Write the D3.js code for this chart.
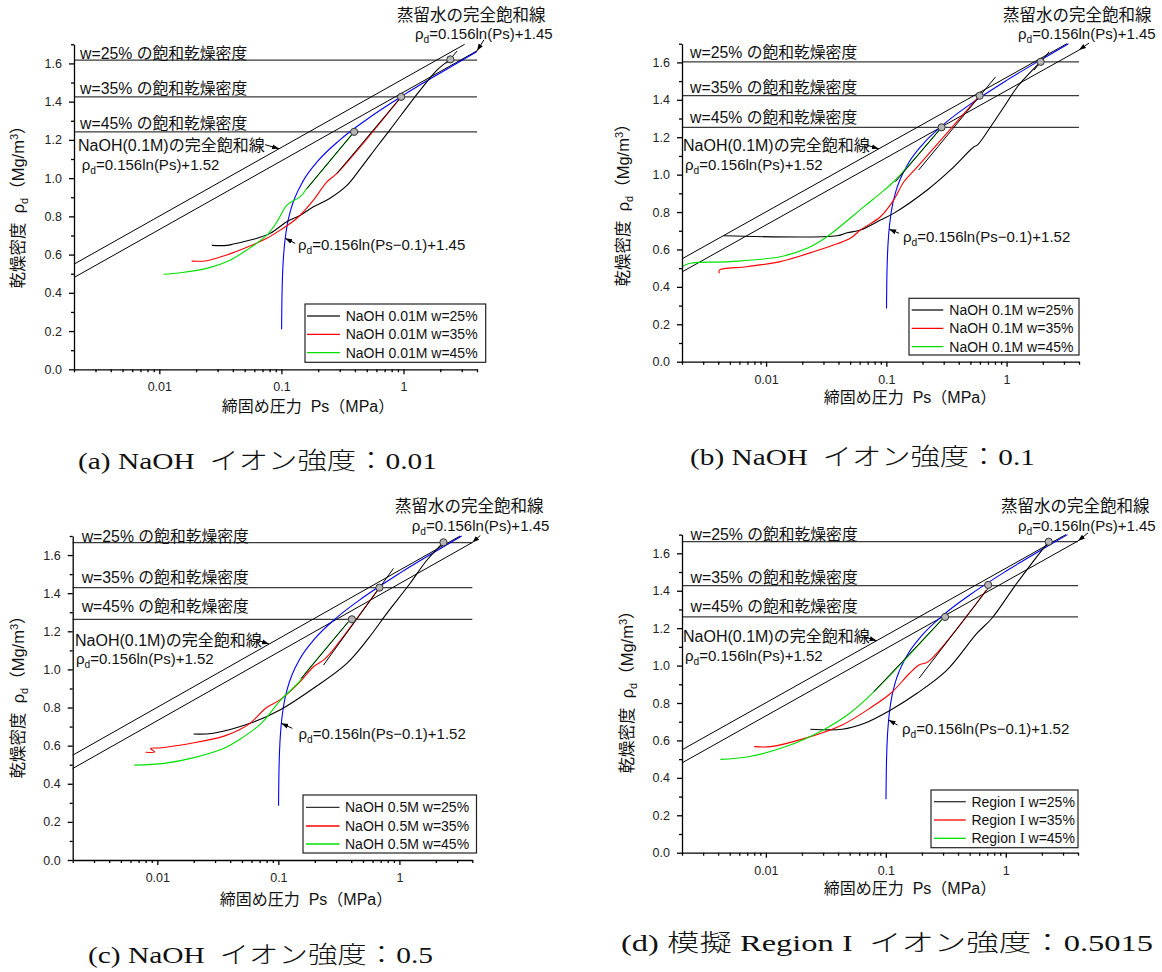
<!DOCTYPE html>
<html><head><meta charset="utf-8">
<script src="https://cdn.jsdelivr.net/npm/d3@7"></script>
<style>
body{margin:0;background:#fff}
svg{display:block}
svg text{white-space:pre}
</style></head><body>
<svg id="chart" width="1162" height="972"></svg>
<script>
// ---- axes ----
const X_DOMAIN = [0.002, 4];
const Y_DOMAIN = [0, 1.7];
const xMajor = [0.01, 0.1, 1];
const xMinor = [0.002,0.003,0.004,0.005,0.006,0.007,0.008,0.009,0.02,0.03,0.04,0.05,0.06,0.07,0.08,0.09,0.2,0.3,0.4,0.5,0.6,0.7,0.8,0.9,2,3,4];
const yMajor = [0,0.2,0.4,0.6,0.8,1.0,1.2,1.4,1.6];
const yMinor = [0.1,0.3,0.5,0.7,0.9,1.1,1.3,1.5,1.7];

// ---- full saturation lines, [Ps (MPa), rho_d] end points ----
const satLineNaOH  = [[0.002, 0.550], [3.17, 1.700]];   // 0.156ln(Ps)+1.52
const satLineWater = [[0.002, 0.480], [4.0, 1.666]];    // 0.156ln(Ps)+1.45

// ---- 0.156ln(Ps-0.1)+c curves ----
const blue145 = [[0.10035,0.209],[0.1005,0.264],[0.101,0.372],[0.102,0.480],[0.103,0.544],[0.105,0.623],[0.11,0.732],[0.12,0.840],[0.13,0.903],[0.15,0.983],[0.2,1.091],[0.3,1.199],[0.5,1.307],[1.0,1.434],[2.0,1.550],[4.0,1.662]];
const blue152 = [[0.100365,0.285],[0.1005,0.334],[0.101,0.442],[0.102,0.550],[0.103,0.614],[0.105,0.693],[0.11,0.802],[0.12,0.910],[0.13,0.973],[0.15,1.053],[0.2,1.161],[0.3,1.269],[0.5,1.377],[1.0,1.504],[2.0,1.620],[3.27,1.700]];

// ---- (a) NaOH 0.01M ----
const aSatRho = [1.617, 1.425, 1.242];
const aW25 = [[0.0269,0.648],[0.0357,0.648],[0.0404,0.655],[0.059,0.680],[0.0808,0.711],[0.1108,0.772],[0.142,0.805],[0.183,0.850],[0.25,0.895],[0.344,0.962],[0.45,1.055],[0.606,1.164],[0.778,1.254],[1.37,1.460],[1.88,1.565],[2.42,1.621]];
const aW35 = [[0.0184,0.566],[0.0245,0.568],[0.0357,0.598],[0.0521,0.638],[0.0759,0.685],[0.0976,0.728],[0.134,0.790],[0.183,0.885],[0.236,0.981],[0.285,1.025],[0.957,1.425]];
const aW45 = [[0.0108,0.497],[0.0148,0.505],[0.0245,0.528],[0.038,0.571],[0.0521,0.624],[0.0759,0.702],[0.0917,0.770],[0.111,0.859],[0.142,0.902],[0.162,0.946],[0.394,1.242]];
const aFits = [[[0.162,0.946],[0.394,1.242]], [[0.285,1.025],[0.957,1.425]], [[2.25,1.600],[2.75,1.665]]];
const aPoints = [[0.394,1.242],[0.957,1.425],[2.42,1.621]];

// ---- (b) NaOH 0.1M ----
const bSatRho = [1.603, 1.422, 1.253];
const bW25 = [[0.00442,0.673],[0.0389,0.673],[0.0472,0.689],[0.0608,0.704],[0.0893,0.757],[0.115,0.793],[0.219,0.918],[0.342,1.025],[0.535,1.149],[0.571,1.158],[0.737,1.256],[0.952,1.363],[1.23,1.470],[1.59,1.550],[1.92,1.603]];
const bW35 = [[0.00409,0.472],[0.00409,0.490],[0.00692,0.508],[0.0131,0.535],[0.0248,0.588],[0.0502,0.660],[0.0608,0.704],[0.0893,0.775],[0.115,0.864],[0.140,0.962],[0.181,1.042],[0.597,1.422]];
const bW45 = [[0.0020,0.508],[0.00233,0.526],[0.00502,0.535],[0.0131,0.561],[0.0219,0.606],[0.0321,0.668],[0.0649,0.828],[0.0893,0.900],[0.115,0.962],[0.288,1.253]];
const bFits = [[[0.119,0.962],[0.288,1.253]], [[0.186,1.025],[0.811,1.523]], [[1.69,1.559],[2.26,1.657]]];
const bPoints = [[0.288,1.253],[0.597,1.422],[1.92,1.603]];

// ---- (c) NaOH 0.5M ----
const cSatRho = [1.665, 1.429, 1.263];
const cW25 = [[0.0199,0.661],[0.029,0.665],[0.0584,0.717],[0.103,0.787],[0.195,0.901],[0.368,1.032],[0.554,1.163],[0.787,1.294],[1.227,1.452],[1.69,1.574],[2.31,1.667]];
const cW35 = [[0.0080,0.565],[0.0095,0.567],[0.0088,0.585],[0.0105,0.588],[0.0201,0.615],[0.0356,0.650],[0.0472,0.682],[0.0584,0.717],[0.080,0.800],[0.103,0.840],[0.151,0.935],[0.195,1.014],[0.236,1.049],[0.268,1.084],[0.684,1.429]];
const cW45 = [[0.00646,0.498],[0.0114,0.507],[0.0201,0.537],[0.0356,0.586],[0.0472,0.630],[0.0723,0.717],[0.103,0.835],[0.151,0.940],[0.155,0.953],[0.379,1.250]];
const cFits = [[[0.155,0.953],[0.379,1.250]], [[0.236,1.023],[0.893,1.530]]];
const cPoints = [[0.405,1.263],[0.684,1.429],[2.31,1.667]];

// ---- (d) simulated Region I ----
const dSatRho = [1.662, 1.427, 1.260];
const dW25 = [[0.0235,0.660],[0.0433,0.660],[0.0665,0.692],[0.110,0.763],[0.182,0.852],[0.323,0.976],[0.574,1.172],[0.766,1.253],[1.18,1.422],[1.57,1.529],[2.28,1.662]];
const dW35 = [[0.0080,0.567],[0.011,0.567],[0.0211,0.611],[0.0433,0.683],[0.0768,0.780],[0.110,0.852],[0.158,0.959],[0.189,1.003],[0.226,1.021],[0.688,1.404]];
const dW45 = [[0.00418,0.499],[0.00716,0.513],[0.0147,0.567],[0.0301,0.656],[0.050,0.745],[0.0826,0.870],[0.301,1.253]];
const dFits = [[[0.0796,0.861],[0.301,1.253]], [[0.189,0.932],[0.713,1.413]]];
const dPoints = [[0.312,1.260],[0.713,1.431],[2.28,1.662]];

// ---- text ----
const satLabels = ["w=25% の飽和乾燥密度", "w=35% の飽和乾燥密度", "w=45% の飽和乾燥密度"];
const legendA = ["NaOH 0.01M w=25%", "NaOH 0.01M w=35%", "NaOH 0.01M w=45%"];
const legendB = ["NaOH 0.1M w=25%", "NaOH 0.1M w=35%", "NaOH 0.1M w=45%"];
const legendC = ["NaOH 0.5M w=25%", "NaOH 0.5M w=35%", "NaOH 0.5M w=45%"];
const legendD = ["Region I w=25%", "Region I w=35%", "Region I w=45%"];
const captions = ["(a) NaOH  イオン強度：0.01", "(b) NaOH  イオン強度：0.1", "(c) NaOH  イオン強度：0.5", "(d) 模擬 Region I  イオン強度：0.5015"];
const seriesColors = ["#000000", "#ff0000", "#00e000"];
const legendColors = ["#333333", "#ff0000", "#00e000"];

const SANS = '"Liberation Sans", Arial, "Noto Sans CJK JP", sans-serif';
const NARROW = '"Liberation Sans Narrow", "Liberation Sans", Arial, sans-serif';
const SERIF = '"Liberation Serif", "Times New Roman", "Noto Sans CJK JP", serif';

const svg = d3.select('#chart');
const defs = svg.append('defs');
defs.append('marker').attr('id', 'arrow').attr('viewBox', '0 0 10 10')
  .attr('refX', 10).attr('refY', 5).attr('markerWidth', 7).attr('markerHeight', 7)
  .attr('markerUnits', 'userSpaceOnUse').attr('orient', 'auto')
  .append('path').attr('d', 'M0,1.5L10,5L0,8.5Z').attr('fill', '#000');

function formulaText(g, x, y, body, size) {
  const t = g.append('text').attr('x', x).attr('y', y)
    .style('font-family', SANS).style('font-size', size + 'px').attr('fill', '#111');
  t.append('tspan').text('ρ');
  t.append('tspan').attr('baseline-shift', '-4').style('font-size', (size * 0.68) + 'px').text('d');
  t.append('tspan').text(body);
  return t;
}

const panels = [
  { left: 74, right: 477, top: 44.3, bottom: 369.3, satRho: aSatRho, series: [aW25, aW35, aW45], fits: aFits, points: aPoints, blue: blue145,
    blueLabel: '=0.156ln(Ps−0.1)+1.45', legend: legendA, caption: captions[0],
    satLabelX: 80, satLabelY: [59, 94, 129],
    waterX: 397, waterY: 21, waterFx: 415, waterFy: 39,
    naohX: 78, naohY: 151, naohFx: 81.7, naohFy: 170,
    blueX: 298, blueY: 250,
    arrows: [{tip: [0.0957, 1.154], dx: -14, dy: -4}, {tip: [4.0, 1.666], dx: 7, dy: -11}, {tip: [0.1074, 0.685], dx: 10, dy: 5}],
    xTitleX: 308, xTitleY: 412, yTitleX: 18.5, yTitleY: 203,
    capX: 78, capY: 469, capW: 359,
    legendBox: [305, 304, 485.7, 362.3], legendRows: [316, 334.3, 352.7], legendLine: [307, 340], legendTextX: 345.7 },
  { left: 682, right: 1079, top: 43.7, bottom: 361.7, satRho: bSatRho, series: [bW25, bW35, bW45], fits: bFits, points: bPoints, blue: blue152,
    blueLabel: '=0.156ln(Ps−0.1)+1.52', legend: legendB, caption: captions[1],
    satLabelX: 690, satLabelY: [58, 93, 122.5],
    waterX: 1003, waterY: 21, waterFx: 1018, waterFy: 39,
    naohX: 683, naohY: 151, naohFx: 685, naohFy: 170,
    blueX: 903, blueY: 242,
    arrows: [{tip: [0.0865, 1.138], dx: -13, dy: -4}, {tip: [4.0, 1.666], dx: 10, dy: -7}, {tip: [0.1055, 0.708], dx: 10, dy: 4}],
    xTitleX: 910, xTitleY: 403, yTitleX: 623, yTitleY: 201,
    capX: 690, capY: 465, capW: 345,
    legendBox: [909, 298.3, 1079, 355], legendRows: [310, 328.3, 346.7], legendLine: [911.7, 943.3], legendTextX: 949.3 },
  { left: 72.7, right: 472.3, top: 536, bottom: 860, satRho: cSatRho, series: [cW25, cW35, cW45], fits: cFits, points: cPoints, blue: blue152,
    blueLabel: '=0.156ln(Ps−0.1)+1.52', legend: legendC, caption: captions[2],
    satLabelX: 81.7, satLabelY: [541.5, 583, 612],
    waterX: 395, waterY: 512, waterFx: 411.7, waterFy: 531,
    naohX: 75, naohY: 645.5, naohFx: 76, naohFy: 663.5,
    blueX: 298.5, blueY: 739,
    arrows: [{tip: [0.0837, 1.133], dx: -12, dy: -4}, {tip: [4.0, 1.666], dx: 8, dy: -7}, {tip: [0.1058, 0.717], dx: 11, dy: 5}],
    xTitleX: 306, xTitleY: 905, yTitleX: 18, yTitleY: 693,
    capX: 88, capY: 963, capW: 345,
    legendBox: [303, 795, 476.5, 853], legendRows: [807.3, 826, 844], legendLine: [306, 339.5], legendTextX: 345 },
  { left: 682, right: 1078, top: 534.6, bottom: 852.7, satRho: dSatRho, series: [dW25, dW35, dW45], fits: dFits, points: dPoints, blue: blue152,
    blueLabel: '=0.156ln(Ps−0.1)+1.52', legend: legendD, caption: captions[3],
    satLabelX: 690.5, satLabelY: [540, 583, 612],
    waterX: 1001, waterY: 512, waterFx: 1018, waterFy: 530.5,
    naohX: 683, naohY: 642, naohFx: 685, naohFy: 661,
    blueX: 902, blueY: 733.5,
    arrows: [{tip: [0.0837, 1.133], dx: -13, dy: -4}, {tip: [4.0, 1.666], dx: 10, dy: -8}, {tip: [0.1055, 0.709], dx: 9, dy: 5}],
    xTitleX: 910, xTitleY: 893.5, yTitleX: 627, yTitleY: 688,
    capX: 621, capY: 951, capW: 532,
    legendBox: [931, 790, 1078, 847.7], legendRows: [801.7, 820, 838.3], legendLine: [934, 965.8], legendTextX: 971.4 }
];

panels.forEach(drawPanel);

function drawPanel(p) {
  const x = d3.scaleLog().domain(X_DOMAIN).range([p.left, p.right]);
  const y = d3.scaleLinear().domain(Y_DOMAIN).range([p.bottom, p.top]);
  const g = svg.append('g');
  const straight = d3.line().x(d => x(d[0])).y(d => y(d[1]));
  const smooth = d3.line().x(d => x(d[0])).y(d => y(d[1])).curve(d3.curveCatmullRom.alpha(0.5));
  const mono = d3.line().x(d => x(d[0])).y(d => y(d[1])).curve(d3.curveMonotoneX);

  // saturated dry density levels
  g.selectAll('line.level').data(p.satRho).join('line').attr('class', 'level')
    .attr('x1', p.left).attr('x2', p.right)
    .attr('y1', d => y(d)).attr('y2', d => y(d))
    .attr('stroke', '#3a3a3a').attr('stroke-width', 1.2);

  // full saturation lines
  [satLineNaOH, satLineWater].forEach(l => {
    g.append('path').attr('d', straight(l)).attr('fill', 'none').attr('stroke', '#000').attr('stroke-width', 1);
  });

  // Ps-0.1 curve
  g.append('path').attr('d', mono(p.blue)).attr('fill', 'none').attr('stroke', '#0000ff').attr('stroke-width', 1.1);

  // measured curves
  p.series.forEach((s, i) => {
    g.append('path').attr('d', smooth(s)).attr('fill', 'none')
      .attr('stroke', seriesColors[i]).attr('stroke-width', 1.1);
  });

  // straight fits
  p.fits.forEach(f => {
    g.append('path').attr('d', straight(f)).attr('fill', 'none').attr('stroke', '#000').attr('stroke-width', 1);
  });

  // saturation points
  g.selectAll('circle.pt').data(p.points).join('circle').attr('class', 'pt')
    .attr('cx', d => x(d[0])).attr('cy', d => y(d[1])).attr('r', 3.6)
    .attr('fill', '#b4b4b4').attr('stroke', '#333').attr('stroke-width', 1);

  // axes
  const xAx = g.append('g').attr('transform', `translate(0,${p.bottom})`)
    .call(d3.axisBottom(x).tickValues(xMajor).tickFormat(d => String(d)).tickSize(5).tickSizeOuter(0).tickPadding(8));
  const xAxMin = g.append('g').attr('transform', `translate(0,${p.bottom})`)
    .call(d3.axisBottom(x).tickValues(xMinor).tickFormat('').tickSize(3));
  xAxMin.select('.domain').remove();
  const yAx = g.append('g').attr('transform', `translate(${p.left},0)`)
    .call(d3.axisLeft(y).tickValues(yMajor).tickFormat(d3.format('.1f')).tickSize(5).tickSizeOuter(0).tickPadding(7));
  const yAxMin = g.append('g').attr('transform', `translate(${p.left},0)`)
    .call(d3.axisLeft(y).tickValues(yMinor).tickFormat('').tickSize(3));
  yAxMin.select('.domain').remove();
  [xAx, xAxMin, yAx, yAxMin].forEach(a => {
    a.selectAll('path, line').attr('stroke', '#000').attr('stroke-width', 1.3);
    a.selectAll('text').style('font-family', NARROW).style('font-size', '12.5px').attr('fill', '#222');
  });

  // level labels
  satLabels.forEach((t, i) => {
    g.append('text').attr('x', p.satLabelX).attr('y', p.satLabelY[i]).text(t)
      .style('font-family', SANS).style('font-size', '15.8px').attr('fill', '#111');
  });

  // line annotations
  g.append('text').attr('x', p.waterX).attr('y', p.waterY).text('蒸留水の完全飽和線')
    .style('font-family', SANS).style('font-size', '16.5px').attr('fill', '#111');
  formulaText(g, p.waterFx, p.waterFy, '=0.156ln(Ps)+1.45', 15);
  g.append('text').attr('x', p.naohX).attr('y', p.naohY).text('NaOH(0.1M)の完全飽和線')
    .style('font-family', SANS).style('font-size', '16px').attr('fill', '#111');
  formulaText(g, p.naohFx, p.naohFy, '=0.156ln(Ps)+1.52', 15);
  formulaText(g, p.blueX, p.blueY, p.blueLabel, 15);

  p.arrows.forEach(a => {
    const tx = x(a.tip[0]), ty = y(a.tip[1]);
    g.append('line').attr('x1', tx + a.dx).attr('y1', ty + a.dy).attr('x2', tx).attr('y2', ty)
      .attr('stroke', '#000').attr('stroke-width', 1).attr('marker-end', 'url(#arrow)');
  });

  // axis titles
  g.append('text').attr('x', p.xTitleX).attr('y', p.xTitleY).attr('text-anchor', 'middle')
    .style('font-family', SANS).style('font-size', '16px').attr('fill', '#111')
    .text('締固め圧力  Ps（MPa）');
  const yt = g.append('text').attr('transform', `translate(${p.yTitleX + 5.5},${p.yTitleY}) rotate(-90)`)
    .attr('text-anchor', 'middle').style('font-family', SANS).style('font-size', '16.5px').attr('fill', '#111');
  yt.append('tspan').text('乾燥密度  ρ');
  yt.append('tspan').attr('baseline-shift', '-4').style('font-size', '11px').text('d');
  yt.append('tspan').text('（Mg/m');
  yt.append('tspan').attr('baseline-shift', '6').style('font-size', '11px').text('3');
  yt.append('tspan').text('）');

  // legend
  const lb = p.legendBox;
  g.append('rect').attr('x', lb[0]).attr('y', lb[1]).attr('width', lb[2] - lb[0]).attr('height', lb[3] - lb[1])
    .attr('fill', '#fff').attr('stroke', '#222').attr('stroke-width', 1.2);
  p.legend.forEach((t, i) => {
    g.append('line').attr('x1', p.legendLine[0]).attr('x2', p.legendLine[1])
      .attr('y1', p.legendRows[i]).attr('y2', p.legendRows[i])
      .attr('stroke', legendColors[i]).attr('stroke-width', 1.3);
    const lt = g.append('text').attr('x', p.legendTextX).attr('y', p.legendRows[i] + 5)
      .style('font-family', SANS).style('font-size', '14px').attr('fill', '#111');
    // roman numeral rendered in a serif face
    const m = t.match(/^(Region )I( .*)$/);
    if (m) {
      lt.append('tspan').text(m[1]);
      lt.append('tspan').style('font-family', SERIF).style('font-size', '15px').text('I');
      lt.append('tspan').text(m[2]);
    } else {
      lt.text(t);
    }
  });

  // caption
  g.append('text').attr('x', p.capX).attr('y', p.capY).text(p.caption)
    .attr('textLength', p.capW).attr('lengthAdjust', 'spacingAndGlyphs')
    .style('font-family', SERIF).style('font-size', '24px').style('font-weight', 300).attr('fill', '#111');
}
</script></body></html>
